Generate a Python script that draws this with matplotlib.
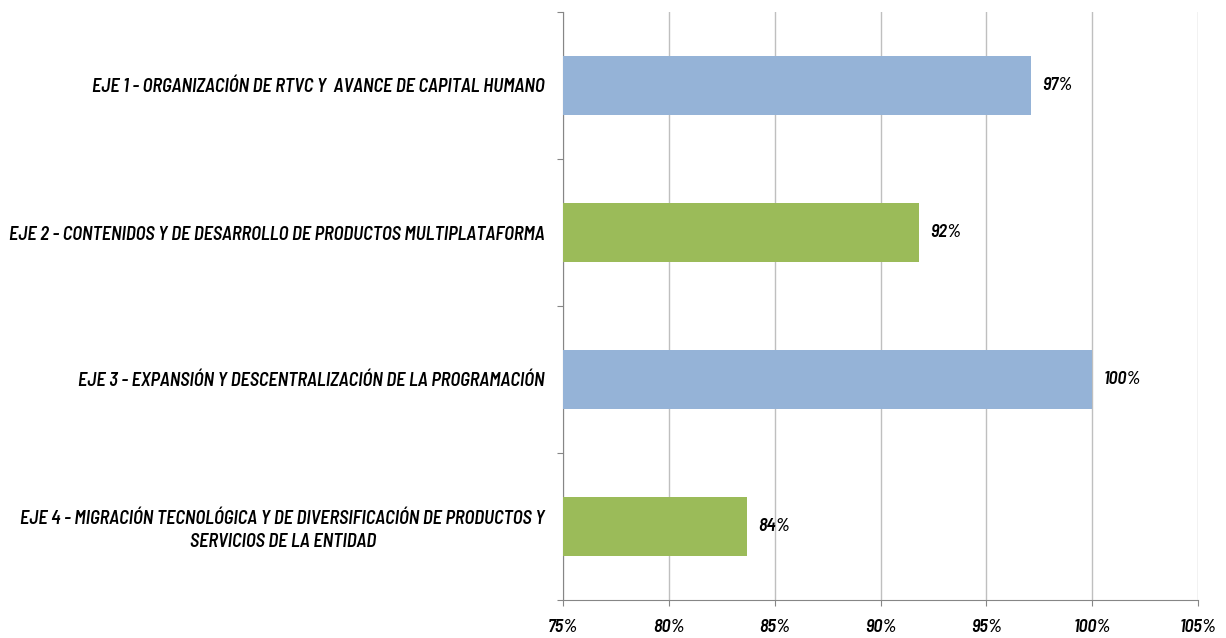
import numpy as np
import matplotlib
matplotlib.use("Agg")
import matplotlib.pyplot as plt
from matplotlib.ticker import FuncFormatter

# data
categories = [
    "EJE 1 - ORGANIZACIÓN DE RTVC Y  AVANCE DE CAPITAL HUMANO",
    "EJE 2 - CONTENIDOS Y DE DESARROLLO DE PRODUCTOS MULTIPLATAFORMA",
    "EJE 3 - EXPANSIÓN Y DESCENTRALIZACIÓN DE LA PROGRAMACIÓN",
    "EJE 4 - MIGRACIÓN TECNOLÓGICA Y DE DIVERSIFICACIÓN DE PRODUCTOS Y\nSERVICIOS DE LA ENTIDAD",
]
values = [97.1, 91.8, 100.0, 83.7]
value_labels = ["97%", "92%", "100%", "84%"]
bar_colors = ["#95B3D7", "#9BBB59", "#95B3D7", "#9BBB59"]
x_ticks = [75, 80, 85, 90, 95, 100, 105]

plt.rcParams['font.family'] = ['Barlow Semi Condensed', 'DejaVu Sans']

fig = plt.figure(figsize=(12.26, 6.38), dpi=100)
ax = fig.add_axes([563/1226, 1 - 600/638, (1198 - 563)/1226, (600 - 12)/638])

ypos = np.arange(len(categories))
ax.barh(ypos, np.array(values) - 75, left=75, height=0.4, color=bar_colors, zorder=3)

txt_kw = dict(fontweight='semibold', style='italic', color='black')

for y, v, lab in zip(ypos, values, value_labels):
    ax.annotate(lab, (v, y), xytext=(8, 0), textcoords='offset points',
                va='center', ha='left', fontsize=13, **txt_kw)

ax.set_xlim(75, 105)
ax.set_ylim(len(categories) - 0.5, -0.5)
ax.set_xticks(x_ticks)
ax.xaxis.set_major_formatter(FuncFormatter(lambda v, p: f"{v:.0f}%"))
ax.grid(axis='x', color='#BFBFBF', linewidth=1.0, zorder=0)

# category boundaries carry the tick marks, centres carry the labels
ax.set_yticks(np.arange(len(categories) + 1) - 0.5)
ax.set_yticklabels([])
ax.set_yticks(ypos, minor=True)
ax.set_yticklabels(categories, minor=True, ha='right', multialignment='center',
                   fontsize=13.3, linespacing=1.35, **txt_kw)
ax.tick_params(axis='y', which='minor', length=0, pad=13)
ax.tick_params(axis='y', which='major', length=4, color='#868686', direction='out')
ax.tick_params(axis='x', length=4, color='#868686', direction='out', pad=10,
               labelsize=13, labelcolor='black')
for t in ax.get_xticklabels():
    t.set_fontweight('semibold')
    t.set_fontstyle('italic')

for side in ['top', 'right']:
    ax.spines[side].set_visible(False)
ax.spines['left'].set_color('#868686')
ax.spines['bottom'].set_color('#868686')

fig.savefig("out.png", dpi=100)
